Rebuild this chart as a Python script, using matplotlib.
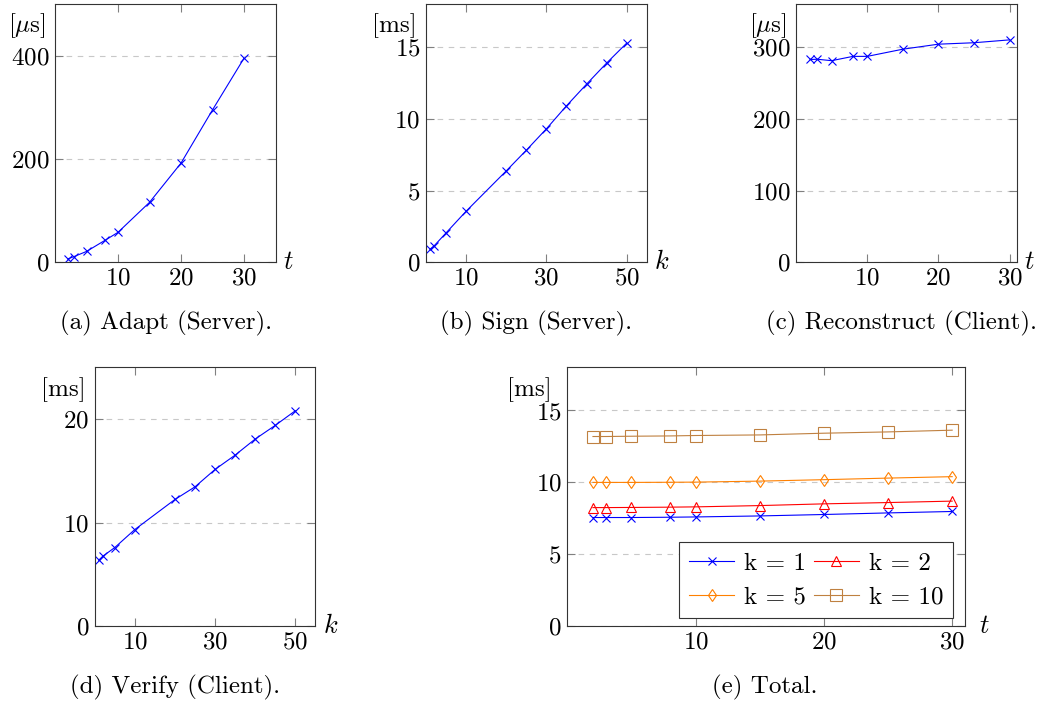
import matplotlib
matplotlib.use("Agg")
import matplotlib.pyplot as plt

plt.rcParams['font.family'] = ['cmr10', 'DejaVu Serif']
plt.rcParams['mathtext.fontset'] = 'cm'
plt.rcParams['axes.formatter.use_mathtext'] = True
plt.rcParams['font.size'] = 18

W, H = 1038, 708

# (a) Adapt (Server)
t_adapt = [2, 3, 5, 8, 10, 15, 20, 25, 30]
adapt_us = [6.4, 11, 21, 43, 58, 116, 192, 295, 395]

# (b) Sign (Server)
k_sign = [1, 2, 5, 10, 20, 25, 30, 35, 40, 45, 50]
sign_ms = [0.91, 1.14, 2.05, 3.56, 6.37, 7.81, 9.3, 10.9, 12.41, 13.88, 15.27]

# (c) Reconstruct (Client)
t_rec = [2, 3, 5, 8, 10, 15, 20, 25, 30]
rec_us = [282.7, 283, 281, 287, 287, 297, 304, 306, 310]

# (d) Verify (Client)
k_ver = [1, 2, 5, 10, 20, 25, 30, 35, 40, 45, 50]
ver_ms = [6.38, 6.76, 7.6, 9.34, 12.24, 13.46, 15.14, 16.52, 18.07, 19.39, 20.8]

# (e) Total
t_tot = [2, 3, 5, 8, 10, 15, 20, 25, 30]
tot_k1 = [7.56, 7.56, 7.56, 7.58, 7.6, 7.67, 7.77, 7.88, 7.98]
tot_k2 = [8.25, 8.25, 8.26, 8.28, 8.3, 8.39, 8.51, 8.6, 8.7]
tot_k5 = [10.0, 10.0, 10.0, 10.01, 10.02, 10.09, 10.19, 10.3, 10.4]
tot_k10 = [13.19, 13.19, 13.21, 13.23, 13.26, 13.3, 13.42, 13.51, 13.63]

fig = plt.figure(figsize=(W / 100, H / 100), dpi=100)


def make_ax(left, right, top, bottom):
    ax = fig.add_axes([left / W, 1 - bottom / H, (right - left) / W, (bottom - top) / H])
    ax.tick_params(direction='in', top=True, right=True, length=6, width=0.8,
                   color='#808080', labelsize=18, pad=4)
    for s in ax.spines.values():
        s.set_linewidth(0.8)
        s.set_color('#333333')
    ax.yaxis.grid(True, linestyle=(0, (5, 5)), color='#c8c8c8', linewidth=0.8)
    ax.set_axisbelow(True)
    return ax


def decorate(ax, unit, var, caption, cx, cy):
    ax.text(-0.04, 0.915, unit, transform=ax.transAxes, ha='right', va='center', fontsize=18)
    ax.text(1.035, 0.0, var, transform=ax.transAxes, ha='left', va='center', fontsize=19)
    fig.text(cx / W, 1 - cy / H, caption, ha='center', va='center', fontsize=18)


blue_kw = dict(color='blue', marker='x', markersize=6, linewidth=0.8, markeredgewidth=0.8)

ax = make_ax(55, 275.5, 4, 262.3)
ax.plot(t_adapt, adapt_us, **blue_kw)
ax.set_xlim(0, 35)
ax.set_ylim(0, 500)
ax.set_xticks([10, 20, 30])
ax.set_yticks([0, 200, 400])
decorate(ax, r'[$\mu$s]', r'$t$', '(a) Adapt (Server).', 166, 323)

ax = make_ax(426, 646.7, 4, 262.3)
ax.plot(k_sign, sign_ms, **blue_kw)
ax.set_xlim(0, 55)
ax.set_ylim(0, 18)
ax.set_xticks([10, 30, 50])
ax.set_yticks([0, 5, 10, 15])
decorate(ax, '[ms]', r'$k$', '(b) Sign (Server).', 536, 323)

ax = make_ax(796, 1016.7, 4, 262.3)
ax.plot(t_rec, rec_us, **blue_kw)
ax.set_xlim(0, 31)
ax.set_ylim(0, 360)
ax.set_xticks([10, 20, 30])
ax.set_yticks([0, 100, 200, 300])
decorate(ax, r'[$\mu$s]', r'$t$', '(c) Reconstruct (Client).', 902, 323)

ax = make_ax(94.7, 315.3, 367.3, 626.3)
ax.plot(k_ver, ver_ms, **blue_kw)
ax.set_xlim(0, 55)
ax.set_ylim(0, 25)
ax.set_xticks([10, 30, 50])
ax.set_yticks([0, 10, 20])
decorate(ax, '[ms]', r'$k$', '(d) Verify (Client).', 175, 687)

ax = make_ax(567.3, 965, 367.3, 626.3)
h1, = ax.plot(t_tot, tot_k1, label='k = 1', **blue_kw)
h2, = ax.plot(t_tot, tot_k2, label='k = 2', color='red', marker='^', markersize=6.5,
              markerfacecolor='none', linewidth=0.8, markeredgewidth=0.8)
h5, = ax.plot(t_tot, tot_k5, label='k = 5', color=(1, 0.5, 0), marker='d', markersize=6.5,
              markerfacecolor='none', linewidth=0.8, markeredgewidth=0.8)
h10, = ax.plot(t_tot, tot_k10, label='k = 10', color=(0.75, 0.5, 0.25), marker='s', markersize=8,
               markerfacecolor='none', linewidth=0.8, markeredgewidth=0.8)
ax.set_xlim(0, 31)
ax.set_ylim(0, 18)
ax.set_xticks([10, 20, 30])
ax.set_yticks([0, 5, 10, 15])
# pgfplots fills legend row by row
leg = ax.legend([h1, h5, h2, h10], ['k = 1', 'k = 5', 'k = 2', 'k = 10'],
                ncol=2, loc='lower right', bbox_to_anchor=(0.97, 0.031), fontsize=18,
                frameon=True, fancybox=False, framealpha=1, edgecolor='#333333',
                handlelength=1.8, columnspacing=0.3, handletextpad=0.4,
                borderpad=0.4, labelspacing=0.45, borderaxespad=0)
leg.get_frame().set_linewidth(0.8)
decorate(ax, '[ms]', r'$t$', '(e) Total.', 765, 687)

fig.savefig('out.png', dpi=100)
